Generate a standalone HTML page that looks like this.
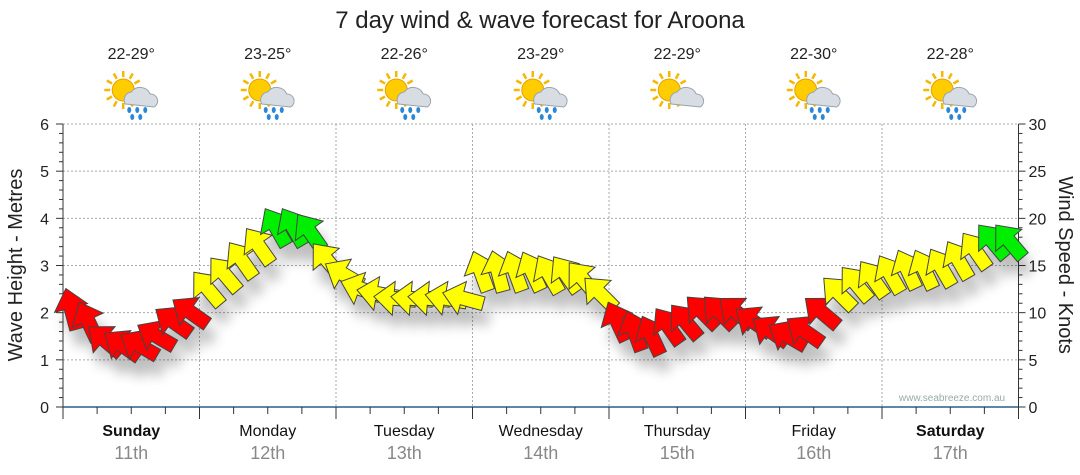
<!DOCTYPE html>
<html><head><meta charset="utf-8"><style>
body{margin:0;background:#fff;font-family:"Liberation Sans",Arial,sans-serif}
svg{display:block}
</style></head><body>
<svg id="c" width="1080" height="475" viewBox="0 0 1080 475">
<defs>
<filter id="sh" x="-50%" y="-50%" width="200%" height="200%"><feGaussianBlur stdDeviation="6"/></filter>
</defs>
<text x="540" y="28" text-anchor="middle" font-size="24" fill="#222">7 day wind &amp; wave forecast for Aroona</text>
<g id="grid"></g>
<g id="axes"></g>
<g id="icons"></g>
<g id="shadow" filter="url(#sh)" opacity="0.25"></g>
<g id="arrows"></g>
<text x="952" y="401" text-anchor="middle" font-size="10" fill="#9aa">www.seabreeze.com.au</text>
<text transform="translate(22,265) rotate(-90)" text-anchor="middle" font-size="20" fill="#222">Wave Height - Metres</text>
<text transform="translate(1059,265) rotate(90)" text-anchor="middle" font-size="20" fill="#222">Wind Speed - Knots</text>
</svg>
<script>
const days=["Sunday","Monday","Tuesday","Wednesday","Thursday","Friday","Saturday"];
const dates=["11th","12th","13th","14th","15th","16th","17th"];
const temps=["22-29°","23-25°","22-26°","23-29°","22-29°","22-30°","22-28°"];
const rainy=[true,true,true,true,false,true,true];
const leftTicks=[0,1,2,3,4,5,6];
const rightTicks=[0,5,10,15,20,25,30];
const windKnots=[10.3,9,7,6.5,6.5,7.5,9,10, 12.5,14,15.5,17,19,19,18.5,15.5, 14,12.5,12,11.5,11.5,11.5,11.5,11.5, 14.3,14.3,14.3,14.3,14,14,13.5,12, 9,8,7.5,8.5,9,10,10,10, 9,8,7.5,8,10,12,13,13.5, 14,14.5,14.5,14.7,15.5,16.5,17.5,17.5];
const windDir=[-15,-25,-50,-55,-60,-60,-55,-55, -40,-40,-35,-35,-30,-30,-35,-40, -60,-70,-80,-85,-85,-85,-80,-75, -20,-15,-20,-25,-30,-35,-40,-45, -25,-20,-25,-35,-40,-45,-45,-50, -55,-55,-60,-55,-50,-45,-40,-35, -30,-25,-25,-30,-30,-35,-40,-40];

const NS="http://www.w3.org/2000/svg";
const X0=63,X1=1018.5,Y0=407,Y1=124;
const dayW=(X1-X0)/7;
const yL=v=>Y0-(v/6)*(Y0-Y1);
const yR=v=>Y0-(v/30)*(Y0-Y1);
const xT=i=>X0+(i+0.5)*dayW/8;
function el(t,a,p){const e=document.createElementNS(NS,t);for(const k in a)e.setAttribute(k,a[k]);(p||document.getElementById('c')).appendChild(e);return e;}
const grid=document.getElementById('grid'),axes=document.getElementById('axes'),icons=document.getElementById('icons');
leftTicks.forEach(v=>{if(v>0){const l=el('line',{x1:X0,x2:X1,y1:yL(v),y2:yL(v),stroke:'#aaa','stroke-dasharray':'2,2'},grid);

}});
for(let d=1;d<7;d++){const l=el('line',{x1:X0+d*dayW,x2:X0+d*dayW,y1:Y1,y2:Y0,stroke:'#aaa','stroke-dasharray':'2,2'},grid);

}
el('line',{x1:X0,x2:X0,y1:Y1,y2:Y0,stroke:'#333'},axes);
el('line',{x1:X1,x2:X1,y1:Y1,y2:Y0,stroke:'#333'},axes);
el('line',{x1:X0,x2:X1,y1:Y0,y2:Y0,stroke:'#2a5d8a','stroke-width':1.5},axes);
for(let i=0;i<=30;i++){const y=yL(i*0.2);const w=i%5==0?7:4;
el('line',{x1:X0-w,x2:X0,y1:y,y2:y,stroke:'#333'},axes);
el('line',{x1:X1,x2:X1+w,y1:y,y2:y,stroke:'#333'},axes);}
leftTicks.forEach(v=>{const t=el('text',{x:X0-14,y:yL(v)+6,'text-anchor':'end','font-size':16,fill:'#222'},axes);t.textContent=v;

});
rightTicks.forEach(v=>{const t=el('text',{x:X1+10,y:yR(v)+6,'font-size':16,fill:'#222'},axes);t.textContent=v;

});
for(let i=0;i<=28;i++){const x=X0+i*dayW/4;const h=i%4==0?12:7;el('line',{x1:x,x2:x,y1:Y0,y2:Y0+h,stroke:'#333'},axes);}
days.forEach((d,i)=>{const cx=X0+(i+0.5)*dayW;
const t=el('text',{x:cx,y:436,'text-anchor':'middle','font-size':16,fill:'#111','font-weight':(i==0||i==6)?'bold':'normal'},axes);t.textContent=d;


const t2=el('text',{x:cx,y:459,'text-anchor':'middle','font-size':18,fill:'#888'},axes);t2.textContent=dates[i];


const t3=el('text',{x:cx,y:59,'text-anchor':'middle','font-size':16,fill:'#222'},icons);t3.textContent=temps[i];


const g=el('g',{transform:`translate(${cx},96)`},icons);


for(let k=0;k<12;k++){const a=k*Math.PI/6;el('line',{x1:-8+Math.cos(a)*13,y1:-6+Math.sin(a)*13,x2:-8+Math.cos(a)*19,y2:-6+Math.sin(a)*19,stroke:'#f5b800','stroke-width':2.5},g);}
el('circle',{cx:-8,cy:-6,r:11,fill:'#ffcc00',stroke:'#e8a000'},g);
el('path',{d:'M-6,8 a8,8 0 0,1 6,-12 a11,11 0 0,1 19,2 a7,7 0 0,1 4,13 z',fill:'#d8dde3',stroke:'#9aa3ad'},g);
if(rainy[i]){[-2,6,14].forEach((dx,j)=>{el('ellipse',{cx:dx,cy:14,rx:2,ry:3,fill:'#2a86d6'},g);if(j<2)el('ellipse',{cx:dx+3,cy:21,rx:2,ry:3,fill:'#2a86d6'},g);});}
});
const sh=document.getElementById('shadow'),ar=document.getElementById('arrows');
const shape='M0,-22 L17,-2 L7,-2 L7,20 L-7,20 L-7,-2 L-17,-2 Z';
windKnots.forEach((v,i)=>{const x=xT(i),y=yR(v);
const col=v<10.5?'#ff0000':(v<17.5?'#ffff00':'#00ee00');
el('path',{d:shape,transform:`translate(${x+6},${y+16}) rotate(${windDir[i]})`,fill:'#000'},sh);
const p=el('path',{d:shape,transform:`translate(${x},${y}) rotate(${windDir[i]})`,fill:col,stroke:'#444','stroke-width':1},ar);


});
</script>
</body></html>
